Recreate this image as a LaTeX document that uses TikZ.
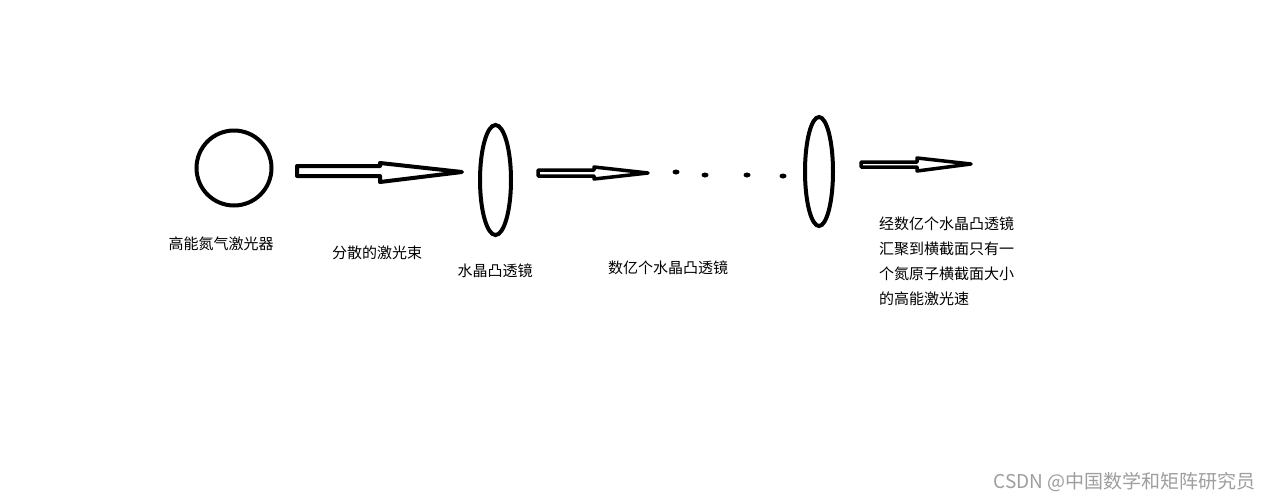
\documentclass[tikz,border=0pt]{standalone}
\usepackage{fontspec}
\newfontfamily\cjk{Noto Sans CJK SC}
\usetikzlibrary{shapes.geometric}
\begin{document}
\begin{tikzpicture}[x=1pt,y=-1pt,
  thick line/.style={line width=4pt, line join=round},
  mid line/.style={line width=3.5pt, line join=round},
  lens/.style={draw, ellipse, line width=4pt, inner sep=0pt},
  lbl/.style={font=\cjk\fontsize{15}{25}\selectfont, inner sep=0pt},
  dotmark/.style={fill=black}]
\useasboundingbox (0,0) rectangle (1272,501);
\fill[white] (0,0) rectangle (1272,501);
% laser source
\node[draw, circle, line width=4pt, minimum size=75pt, inner sep=0pt] (laser) at (234,168) {};
% arrow 1
\draw[thick line] (297,166) -- (380,166) -- (380,163) -- (462,172) -- (380,182) -- (380,176) -- (297,176) -- cycle;
% lens 1
\node[lens, minimum width=31pt, minimum height=110pt] (lens1) at (495.5,180) {};
% arrow 2
\draw[mid line] (538,170) -- (594,170) -- (594,167) -- (648,173) -- (594,179) -- (594,176) -- (538,176) -- cycle;
% dots
\fill[dotmark] (676,172) ellipse (3.5 and 2.5);
\fill[dotmark] (705,175) ellipse (3.5 and 2.5);
\fill[dotmark] (747,175) ellipse (3.5 and 2.5);
\fill[dotmark] (783,176) ellipse (3.5 and 2.5);
% lens 2
\node[lens, minimum width=28pt, minimum height=109pt] (lens2) at (819,171.5) {};
% arrow 3
\draw[mid line] (861,162) -- (917,162) -- (917,158) -- (971,164) -- (917,171) -- (917,167) -- (861,167) -- cycle;
% labels
\node[lbl] (t1) at (221,244) {高能氮气激光器};
\node[lbl] (t2) at (377,253) {分散的激光束};
\node[lbl] (t3) at (495,271) {水晶凸透镜};
\node[lbl] (t4) at (668,268) {数亿个水晶凸透镜};
\node[lbl, anchor=west, align=left] (t5) at (879,261.5) {经数亿个水晶凸透镜\\汇聚到横截面只有一\\个氮原子横截面大小\\的高能激光速};
\node[font=\cjk\fontsize{19}{22}\selectfont, text=black!38, anchor=east, inner sep=0pt] (wm) at (1256,482) {CSDN @中国数学和矩阵研究员};
\end{tikzpicture}
\end{document}
